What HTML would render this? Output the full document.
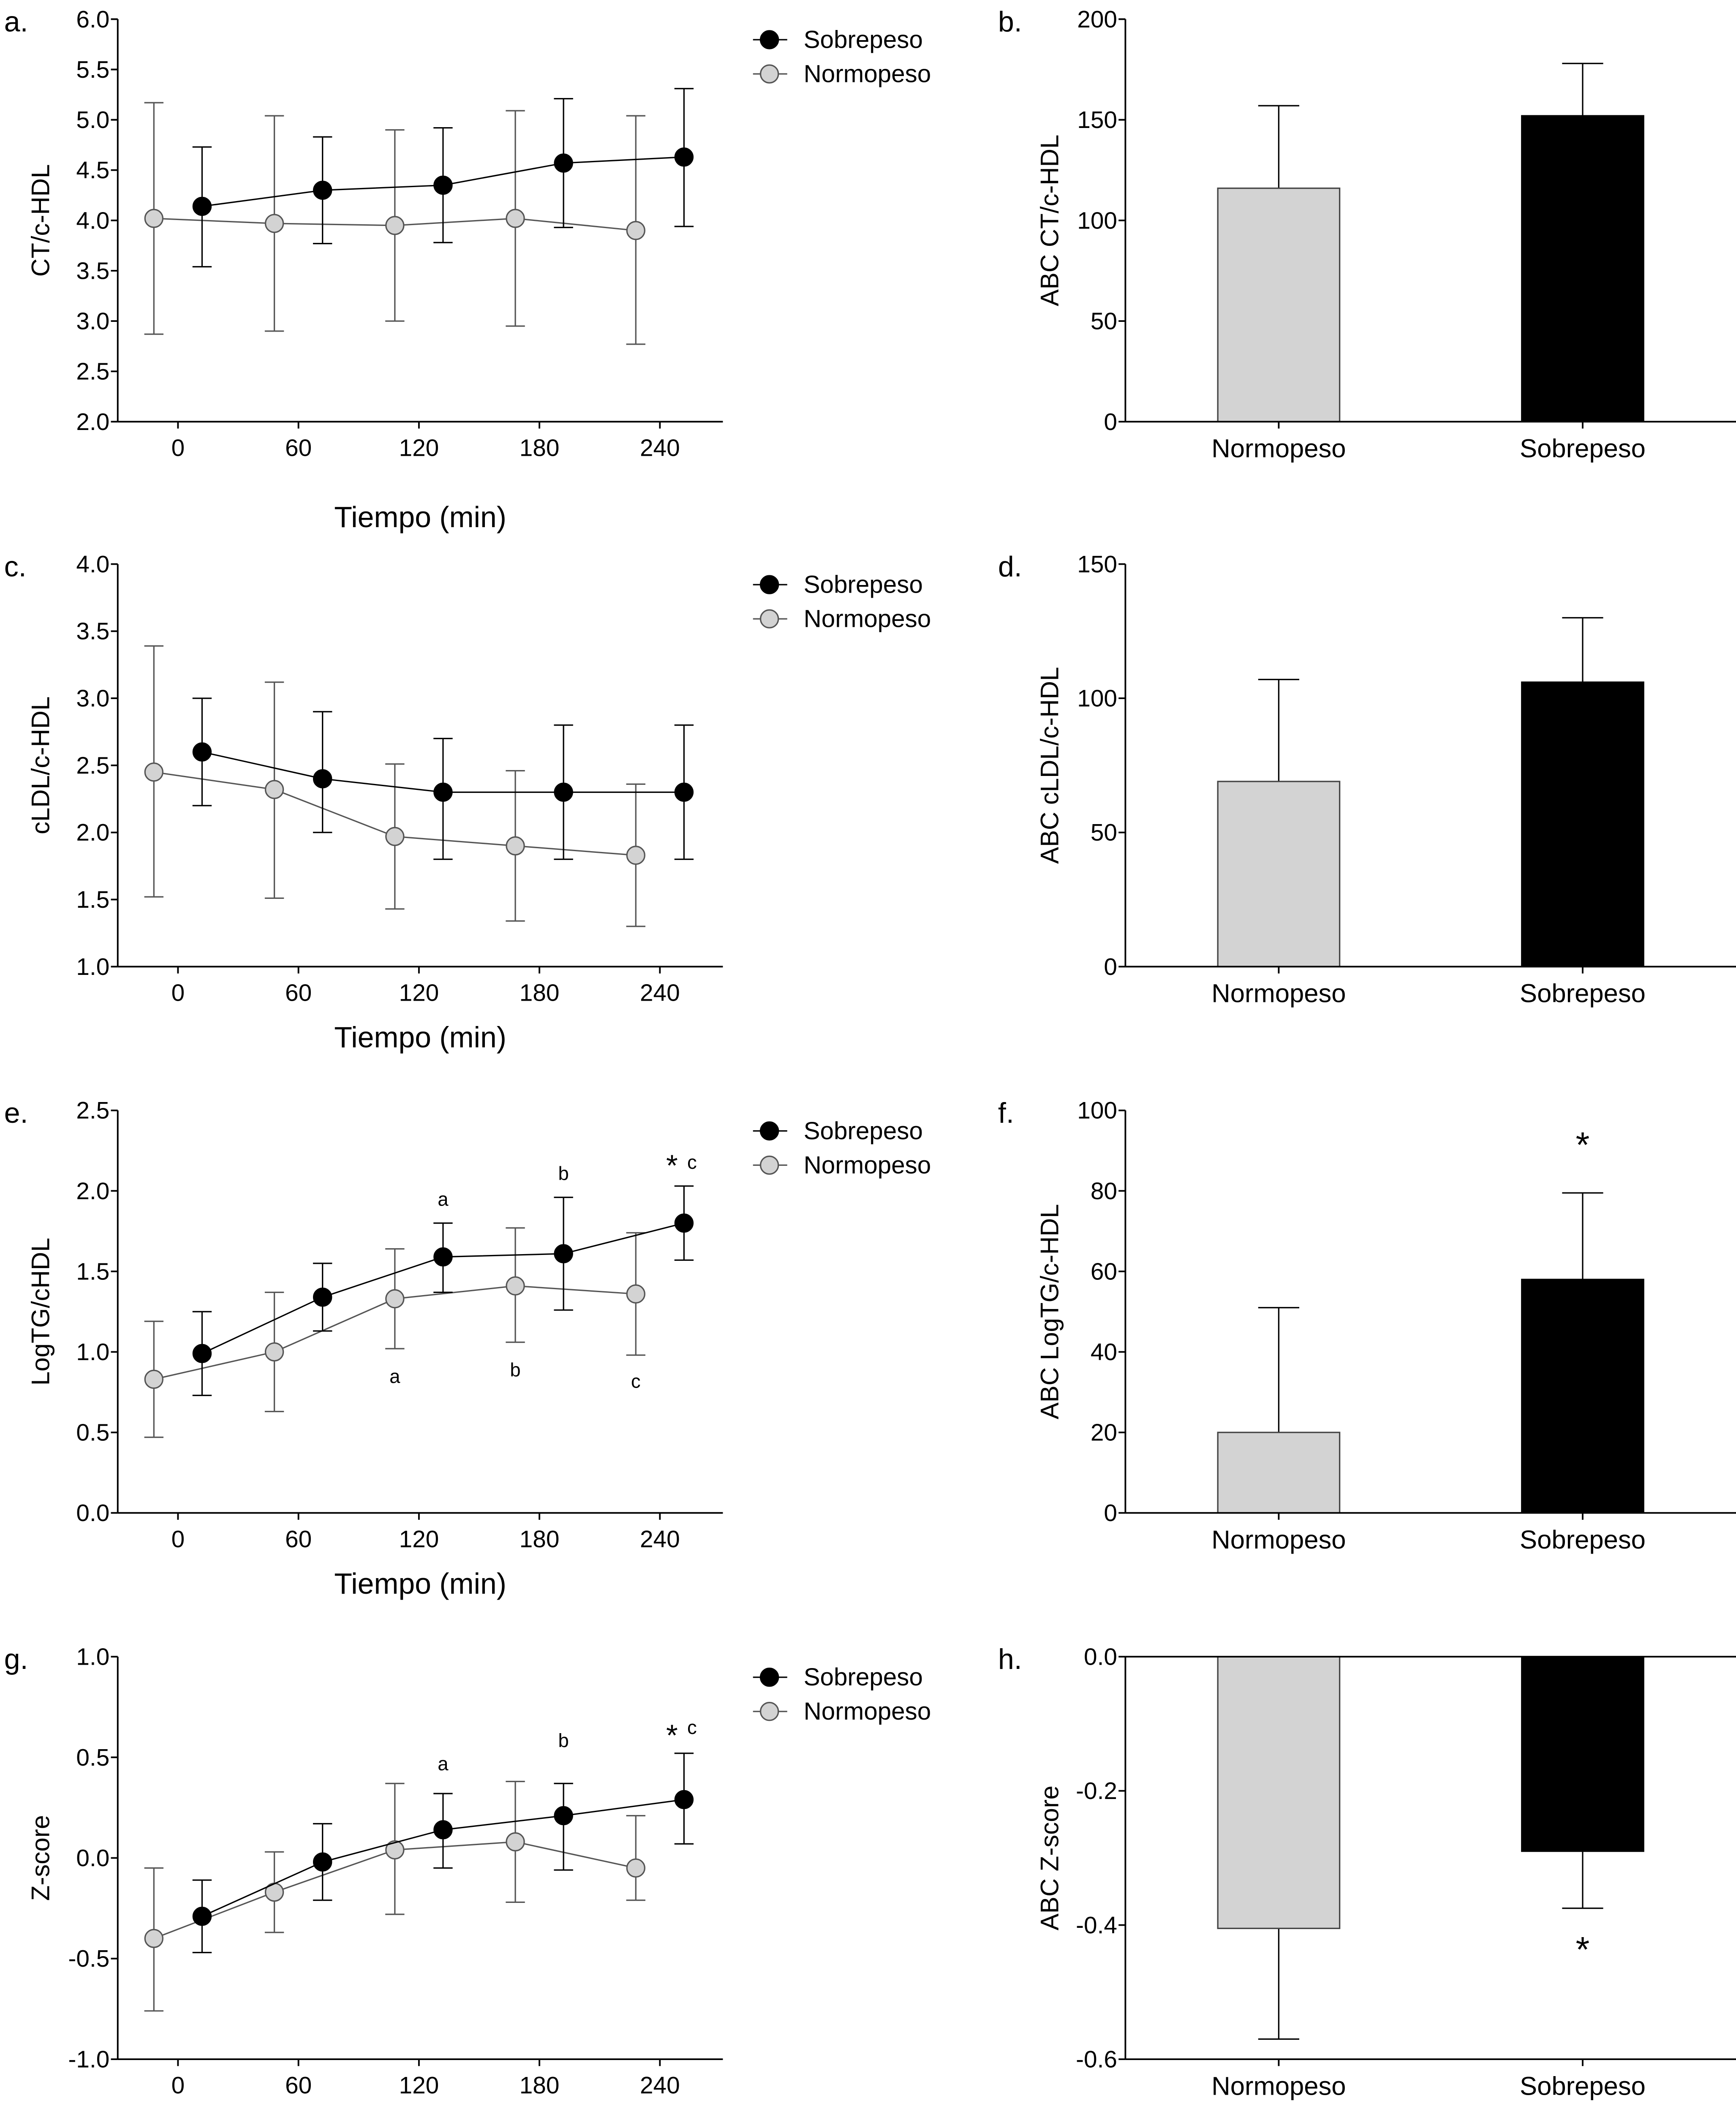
<!DOCTYPE html>
<html><head><meta charset="utf-8">
<style>
html,body{margin:0;padding:0;background:#fff;overflow:hidden;width:4110px;height:5088px;}
svg{display:block;overflow:hidden;}
text{font-family:"Liberation Sans",sans-serif;fill:#000;}
</style></head>
<body>
<svg id="fig" xmlns="http://www.w3.org/2000/svg" width="4110" height="5088" viewBox="0 0 1268 1569.7" preserveAspectRatio="none"></svg>
<script>
// ---- shared data ----
const timesN=[-12,48,108,168,228];
const timesS=[12,72,132,192,252];
const xTicks=[0,60,120,180,240];
const categories=["Normopeso","Sobrepeso"];

// panel a
const aTicks=[2.0,2.5,3.0,3.5,4.0,4.5,5.0,5.5,6.0];
const aS=[4.14,4.30,4.35,4.57,4.63];
const aSlo=[3.54,3.77,3.78,3.93,3.94];
const aShi=[4.73,4.83,4.92,5.21,5.31];
const aN=[4.02,3.97,3.95,4.02,3.90];
const aNlo=[2.87,2.90,3.00,2.95,2.77];
const aNhi=[5.17,5.04,4.90,5.09,5.04];
// panel c
const cTicks=[1.0,1.5,2.0,2.5,3.0,3.5,4.0];
const cS=[2.60,2.40,2.30,2.30,2.30];
const cSlo=[2.20,2.00,1.80,1.80,1.80];
const cShi=[3.00,2.90,2.70,2.80,2.80];
const cN=[2.45,2.32,1.97,1.90,1.83];
const cNlo=[1.52,1.51,1.43,1.34,1.30];
const cNhi=[3.39,3.12,2.51,2.46,2.36];
// panel e
const eTicks=[0.0,0.5,1.0,1.5,2.0,2.5];
const eS=[0.99,1.34,1.59,1.61,1.80];
const eSlo=[0.73,1.13,1.37,1.26,1.57];
const eShi=[1.25,1.55,1.80,1.96,2.03];
const eN=[0.83,1.00,1.33,1.41,1.36];
const eNlo=[0.47,0.63,1.02,1.06,0.98];
const eNhi=[1.19,1.37,1.64,1.77,1.74];
const eNotes=["a","b","*","c","a","b","c"];
const eNoteT=[132,192,246,256,108,168,228];
const eNoteV=[1.95,2.11,2.17,2.18,0.85,0.89,0.82];
// panel g
const gTicks=[-1.0,-0.5,0.0,0.5,1.0];
const gS=[-0.29,-0.02,0.14,0.21,0.29];
const gSlo=[-0.47,-0.21,-0.05,-0.06,0.07];
const gShi=[-0.11,0.17,0.32,0.37,0.52];
const gN=[-0.40,-0.17,0.04,0.08,-0.05];
const gNlo=[-0.76,-0.37,-0.28,-0.22,-0.21];
const gNhi=[-0.05,0.03,0.37,0.38,0.21];
const gNotes=["a","b","*","c"];
const gNoteT=[132,192,246,256];
const gNoteV=[0.47,0.585,0.62,0.65];
// bar panels
const bTicks=[0,50,100,150,200];
const bVals=[116,152];
const bErr=[157,178];
const dTicks=[0,50,100,150];
const dVals=[69,106];
const dErr=[107,130];
const fTicks=[0,20,40,60,80,100];
const fVals=[20,58];
const fErr=[51,79.5];
const hTicks=[0.0,-0.2,-0.4,-0.6];
const hVals=[-0.405,-0.29];
const hErr=[-0.57,-0.375];

const NS="http://www.w3.org/2000/svg";
const svg=document.getElementById('fig');
function mk(tag,attrs,parent,txt){
  const e=document.createElementNS(NS,tag);
  for(const k in attrs)e.setAttribute(k,attrs[k]);
  if(txt!==undefined)e.textContent=txt;
  (parent||svg).appendChild(e);return e;
}
function txt(x,y,anchor,s,parent,size){
  return mk('text',{x:x,y:y,'text-anchor':anchor,style:'font-size:'+size+'px'},parent,s);
}
function grp(name){
  const g=document.createElementNS(NS,'g');
  
  
  svg.appendChild(g);return g;
}
const TOP=[14,412,811,1210], H=294;
function fmt(v,d){return v.toFixed(d);}

function linePanel(idx,letter,ylabel,ticks,dec,S,Slo,Shi,N,Nlo,Nhi,notes,noteT,noteV){
  const top=TOP[idx], bot=top+H, x0=86, x1=528;
  const ymin=ticks[0], ymax=ticks[ticks.length-1];
  const sx=t=>130+t*88/60;
  const sy=v=>bot-(v-ymin)/(ymax-ymin)*H;
  const g=grp('line-panel-'+letter);
  const pl=txt(3,top+9,'start',letter+'.',g,21);
  
  
  const ya=mk('line',{x1:x0,y1:top,x2:x0,y2:bot,stroke:'#000','stroke-width':1.2},g);
  
  
  const xa=mk('line',{x1:x0,y1:bot,x2:x1,y2:bot,stroke:'#000','stroke-width':1.2},g);
  
  
  ticks.forEach(v=>{
    mk('line',{x1:x0-5,y1:sy(v),x2:x0,y2:sy(v),stroke:'#000','stroke-width':1.2},g);
    const t=txt(x0-6,sy(v)+6,'end',fmt(v,1),g,17.5);
    
    
  });
  xTicks.forEach(v=>{
    mk('line',{x1:sx(v),y1:bot,x2:sx(v),y2:bot+5,stroke:'#000','stroke-width':1.2},g);
    const t=txt(sx(v),bot+25,'middle',String(v),g,17.5);
    
    
  });
  const xt=txt(307,idx===0?385:top+353,'middle','Tiempo (min)',g,21.5);
  
  
  const yt=mk('text',{x:0,y:0,'text-anchor':'middle',style:'font-size:18.5px',transform:`translate(36,${top+H/2}) rotate(-90)`},g,ylabel);
  
  
  function series(T,V,Lo,Hi,col,fill,name){
    const sg=mk('g',{},g);
    
    
    T.forEach((t,i)=>{
      const x=sx(t);
      const eb=mk('path',{d:`M${x},${sy(Lo[i])}V${sy(Hi[i])}M${x-7},${sy(Lo[i])}H${x+7}M${x-7},${sy(Hi[i])}H${x+7}`,stroke:col,'stroke-width':1,fill:'none'},sg);
      
      
    });
    const pts=T.map((t,i)=>sx(t)+','+sy(V[i])).join(' ');
    const ln=mk('polyline',{points:pts,fill:'none',stroke:col,'stroke-width':1},sg);
    
    
    T.forEach((t,i)=>{
      const c=mk('circle',{cx:sx(t),cy:sy(V[i]),r:6.5,fill:fill,stroke:col,'stroke-width':1},sg);
      
      
    });
  }
  series(timesN,N,Nlo,Nhi,'#555','#d3d3d3','normopeso');
  series(timesS,S,Slo,Shi,'#000','#000','sobrepeso');
  if(notes){
    notes.forEach((n,i)=>{
      const t=txt(sx(noteT[i]),sy(noteV[i])+(n==='*'?9:5),'middle',n,g,n==='*'?22:14);
      
      
    });
  }
  const lg=mk('g',{},g);
  
  
  [['Sobrepeso','#000','#000',15],['Normopeso','#555','#d3d3d3',40]].forEach(e=>{
    const le=mk('g',{},lg);
    
    
    mk('line',{x1:550,y1:top+e[3],x2:575,y2:top+e[3],stroke:e[1],'stroke-width':1},le);
    mk('circle',{cx:562,cy:top+e[3],r:6.5,fill:e[2],stroke:e[1],'stroke-width':1},le);
    txt(587,top+e[3]+6,'start',e[0],le,18);
  });
}

function barPanel(idx,letter,ylabel,ticks,dec,vals,errs,star){
  const top=TOP[idx], bot=top+H, x0=822, x1=1268;
  const lo=Math.min(...ticks), hi=Math.max(...ticks);
  const sy=v=>top+(hi-v)/(hi-lo)*H;
  const cx=[934,1156], bw=89;
  const g=grp('bar-panel-'+letter);
  const pl=txt(729,top+9,'start',letter+'.',g,21);
  
  
  const base=sy(Math.max(lo,Math.min(hi,0)));
  vals.forEach((v,i)=>{
    const y=Math.min(sy(v),base), h=Math.abs(sy(v)-base);
    const e=errs[i];
    const eb=mk('path',{d:`M${cx[i]},${sy(v)}V${sy(e)}M${cx[i]-15},${sy(e)}H${cx[i]+15}`,stroke:'#000','stroke-width':1,fill:'none'},g);
    
    
    const r=mk('rect',{x:cx[i]-bw/2,y:y,width:bw,height:h,fill:i?'#000':'#d3d3d3',stroke:i?'#000':'#444','stroke-width':1},g);
    
    
  });
  const ya=mk('line',{x1:x0,y1:top,x2:x0,y2:bot,stroke:'#000','stroke-width':1.2},g);
  
  
  const xa=mk('line',{x1:x0,y1:bot,x2:x1,y2:bot,stroke:'#000','stroke-width':1.2},g);
  
  
  if(lo<0){
    const zl=mk('line',{x1:x0,y1:sy(0),x2:x1,y2:sy(0),stroke:'#000','stroke-width':1.2},g);
    
    
  }
  ticks.forEach(v=>{
    mk('line',{x1:x0-5,y1:sy(v),x2:x0,y2:sy(v),stroke:'#000','stroke-width':1.2},g);
    const t=txt(x0-6,sy(v)+6,'end',fmt(v,dec),g,17.5);
    
    
  });
  categories.forEach((c,i)=>{
    mk('line',{x1:cx[i],y1:bot,x2:cx[i],y2:bot+5,stroke:'#000','stroke-width':1.2},g);
    const t=txt(cx[i],bot+26,'middle',c,g,19);
    
    
  });
  const yt=mk('text',{x:0,y:0,'text-anchor':'middle',style:'font-size:18.5px',transform:`translate(773,${top+H/2}) rotate(-90)`},g,ylabel);
  
  
  if(star!==undefined){
    const s=txt(cx[1],sy(star)+12,'middle','*',g,26);
    
    
  }
}

linePanel(0,'a','CT/c-HDL',aTicks,1,aS,aSlo,aShi,aN,aNlo,aNhi);
linePanel(1,'c','cLDL/c-HDL',cTicks,1,cS,cSlo,cShi,cN,cNlo,cNhi);
linePanel(2,'e','LogTG/cHDL',eTicks,1,eS,eSlo,eShi,eN,eNlo,eNhi,eNotes,eNoteT,eNoteV);
linePanel(3,'g','Z-score',gTicks,1,gS,gSlo,gShi,gN,gNlo,gNhi,gNotes,gNoteT,gNoteV);
barPanel(0,'b','ABC CT/c-HDL',bTicks,0,bVals,bErr);
barPanel(1,'d','ABC cLDL/c-HDL',dTicks,0,dVals,dErr);
barPanel(2,'f','ABC LogTG/c-HDL',fTicks,0,fVals,fErr,92.5);
barPanel(3,'h','ABC Z-score',hTicks,1,hVals,hErr,-0.43);
</script>
</body></html>
